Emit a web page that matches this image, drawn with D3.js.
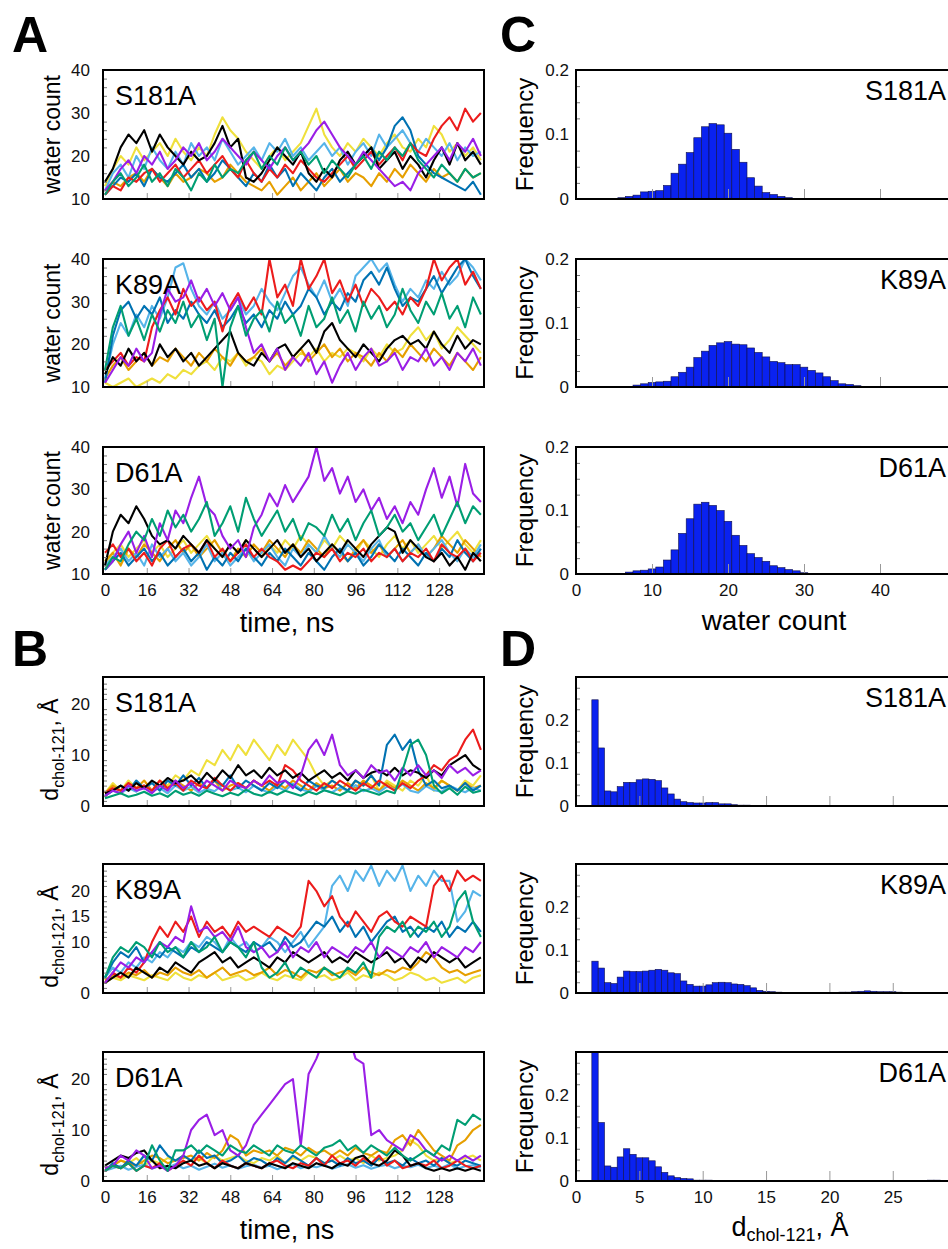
<!DOCTYPE html>
<html>
<head>
<meta charset="utf-8">
<script src="https://cdn.jsdelivr.net/npm/d3@7/dist/d3.min.js"></script>
<style>
  body { margin: 0; background: #fff; }
  svg { display: block; font-family: "Liberation Sans", Arial, sans-serif; }
</style>
</head>
<body>
<svg id="fig" width="948" height="1249"></svg>
<script>
// sampled time points (ns)
const time = [0,3,6,9,12,15,18,21,24,27,30,33,36,39,42,45,48,51,54,57,60,63,66,69,72,75,78,81,84,87,90,93,96,99,102,105,108,111,114,117,120,123,126,129,132,135,138,141,144];

const seriesOrder = ["yellow", "orange", "skyblue", "blue", "red", "black", "purple", "green"];
const seriesColor = {
	yellow: "#efe03c", orange: "#e69f00", skyblue: "#56b4e9", blue: "#0072b2",
	red: "#ec1c1c", black: "#000000", purple: "#9a1ee6", green: "#009e73"
};

// A: water count traces
const waterS181A = {
	black:   [14,17,22,25,23,26,21,25,22,20,18,21,19,20,23,27,22,24,15,14,16,19,22,20,18,21,16,14,17,15,19,21,18,20,22,17,19,21,17,20,18,15,19,22,18,23,19,21,18],
	yellow:  [13,17,20,18,22,19,21,23,20,24,21,19,22,20,25,29,26,24,21,19,17,20,22,19,21,23,27,31,25,22,20,23,21,24,22,20,23,25,22,21,24,22,27,25,21,23,20,22,19],
	red:     [11,13,12,15,14,16,17,14,16,18,15,17,19,16,18,20,17,15,19,16,14,17,15,18,16,19,17,15,14,16,18,20,17,19,21,18,20,22,19,23,21,20,24,27,29,26,31,28,30],
	orange:  [12,14,13,15,16,14,17,15,13,16,14,15,17,16,14,15,18,16,14,13,12,14,11,13,15,12,14,16,13,15,17,14,16,15,13,16,14,17,15,18,16,14,17,15,16,14,17,15,16],
	skyblue: [12,16,18,15,20,17,22,19,17,21,18,23,20,22,19,24,21,18,20,22,19,23,21,24,20,22,19,21,23,20,22,18,21,23,20,25,22,24,26,23,21,24,22,20,23,19,22,20,21],
	blue:    [11,13,15,14,16,13,17,15,14,16,18,15,17,14,16,19,17,15,13,16,14,18,15,17,13,16,14,12,15,17,14,16,18,20,22,19,22,27,29,26,20,18,16,15,14,13,12,14,11],
	purple:  [12,14,17,19,16,20,18,21,17,19,22,20,23,19,21,24,22,20,18,21,19,17,20,22,19,21,23,26,28,25,22,20,18,21,19,17,15,13,14,12,16,18,20,22,19,23,21,24,20],
	green:   [11,14,16,13,15,18,14,16,13,17,15,12,16,14,18,15,17,16,19,21,17,20,18,22,19,21,18,20,16,19,17,15,18,20,17,21,19,22,20,23,19,17,15,18,16,14,17,15,16]
};
const waterK89A = {
	red:     [14,16,18,15,17,16,24,28,31,27,33,29,31,28,30,23,29,32,28,31,27,40,31,34,29,40,33,36,40,32,35,30,34,29,33,31,28,30,27,31,29,33,40,35,38,40,34,37,33],
	skyblue: [12,20,25,22,27,24,29,26,31,38,39,33,29,27,30,26,28,31,27,29,33,30,28,32,36,38,34,31,35,30,33,29,36,38,40,37,39,34,30,33,31,35,33,37,34,36,40,38,35],
	blue:    [11,22,28,30,26,29,27,31,25,28,26,30,27,25,28,24,26,29,25,27,24,28,26,30,27,29,33,31,27,30,28,32,30,35,37,34,38,33,29,31,30,33,36,32,35,38,40,36,33],
	purple:  [11,14,17,15,19,16,18,27,33,30,31,35,30,33,29,32,28,31,24,18,20,16,19,14,17,15,18,13,16,11,15,18,14,17,19,15,16,18,14,17,16,19,15,17,14,18,16,19,15],
	black:   [13,17,15,19,16,18,15,20,17,19,16,18,15,17,19,21,23,18,16,15,18,16,19,20,17,19,21,18,23,25,21,19,17,20,18,16,19,21,22,20,21,19,23,20,18,22,19,21,20],
	green:   [14,24,29,22,26,21,27,23,28,25,30,24,27,21,26,10,24,29,22,26,28,23,30,25,27,22,29,24,26,31,25,28,23,30,26,29,24,27,33,28,25,30,27,32,26,29,24,31,27],
	yellow:  [11,10,11,12,10,11,12,11,13,12,14,13,15,16,14,17,16,18,15,17,16,13,15,14,16,18,17,19,16,18,17,19,18,16,19,17,20,18,19,22,24,21,23,19,21,24,22,20,18],
	orange:  [12,15,17,14,16,18,15,17,16,19,17,15,18,16,19,17,15,18,16,17,19,16,18,15,17,19,16,18,20,17,19,16,18,17,15,18,16,19,17,20,18,16,19,17,15,18,16,14,17]
};
const waterD61A = {
	black:   [12,20,24,22,26,23,19,17,18,16,19,17,15,18,16,14,17,15,18,16,14,16,18,15,17,14,16,13,15,17,15,18,16,14,17,19,21,20,15,18,16,14,13,15,12,14,11,15,13],
	purple:  [11,13,17,20,15,19,14,22,18,25,22,28,33,26,24,19,16,18,14,21,24,29,26,31,27,30,33,40,32,35,29,33,27,30,25,28,23,26,22,27,24,30,35,28,33,26,36,29,27],
	green:   [11,14,13,17,20,18,23,19,25,21,24,20,23,27,19,22,26,20,28,23,19,22,25,20,23,18,22,21,19,24,20,23,18,22,25,19,21,24,20,22,18,21,24,19,23,27,22,26,24],
	red:     [15,17,14,16,13,15,12,16,18,14,16,17,15,18,14,16,13,15,17,14,16,14,13,11,12,11,13,15,14,16,13,15,14,16,13,15,14,16,13,15,14,16,13,17,15,14,16,13,15],
	blue:    [11,13,15,12,14,16,13,15,12,14,16,13,15,11,14,12,15,13,16,14,12,15,13,16,14,12,15,13,11,14,16,13,15,12,14,17,15,13,16,14,12,15,13,16,14,18,15,13,16],
	skyblue: [12,14,16,13,15,12,17,14,16,13,15,12,14,17,13,15,12,14,16,13,15,17,14,12,16,14,17,15,19,16,14,17,15,13,16,18,14,16,13,15,17,14,16,18,15,13,16,14,17],
	yellow:  [12,15,17,14,16,18,15,17,14,16,18,15,17,19,16,14,17,15,18,16,14,17,15,18,16,19,17,15,18,16,19,17,15,18,16,14,17,19,16,18,15,17,19,16,18,20,17,15,18],
	orange:  [13,15,12,16,14,17,15,13,16,18,15,17,14,16,18,15,13,16,14,17,15,18,16,14,17,15,18,16,14,17,15,13,16,18,15,17,14,16,18,15,17,14,16,19,17,15,18,16,14]
};

// B: d(chol-121) traces, Angstrom
const distS181A = {
	yellow:  [2.5,4.5,3,5,3.5,4,3,5,4,6,5,7,6,9,8,11,9,12,10,13,11,9,12,10,13,11,9,6,4,5,4,3,5,4,6,3,5,4,3,5,4,6,3,5,4,3,5,4,6],
	purple:  [2,3,2.5,4,3,3.5,2.5,4,3,5,3.5,4.5,3,5,4,3,5,4,3.5,5,4,6,4.5,5,3.5,6,11,13,10,14,8,6,7,5.5,8,6.5,7,5,7.5,6,8,6,7,5.5,8,6.5,7.5,6,7],
	blue:    [2,3,4,3,5,3.5,4.5,3,5,4,6,4,5.5,3.5,5,4,6,3.5,5,4,3,4.5,3.5,5,4,3,5,4,3.5,5,4,3,5,4,6,4,12,14,11,13,7,4,5,3.5,4,3,4.5,3,4],
	green:   [1.5,2,2.5,1.8,2.2,2.8,2,2.5,1.8,3,2.2,2.7,2,3,2.4,1.9,2.6,2.1,3.2,2.4,2,2.8,2.2,3,2.5,2,2.8,2.3,3.1,2.6,2.1,2.9,2.4,3.2,2.7,2.2,3,2.5,7,12,13,10,4,2.5,3.5,2.2,3.8,2.6,3],
	red:     [2.5,3.5,3,4.5,3.5,4,3,5,3.5,4.5,3,5,4,3.5,5.5,4,3,4.5,3.5,5,4,5,4,8,7,5,4,3,4.5,3.5,5,4,3,4.5,3.5,5,4,3,4.5,3.5,5,6,8,7,9,10,13,15,11],
	black:   [2.5,3,4,3,4.5,3.5,5,4,5.5,4.5,5,6,4.5,6.5,5,7,5.5,8,6,7,5.5,7.5,6,7,5.5,6.5,5,6,7,5.5,6.5,5,7,5.5,6.5,7,6,7.5,6,7,6.5,5.5,7,6,8,9,10,8,7],
	skyblue: [2,3,2.5,3.5,2.8,4,3,3.5,2.5,4,3,3.8,2.6,3.4,2.9,4.2,3.1,3.6,2.7,4,3.2,2.6,3.8,3,4.4,3.3,2.8,3.9,3.1,2.7,3.6,3,4.1,2.9,3.5,2.7,3.8,3.2,4.3,3,2.6,3.9,3.1,2.8,4,3.3,2.7,3.6,3],
	orange:  [2.5,4,3,4.5,3.5,5,3,4,3.5,5,4,3,4.5,3.5,5,3,4,4.5,3.5,5,4,3,4.5,3.5,5,4,3,4.5,3.5,4,3,4.5,3.5,5,4,3,4.5,3.5,5,4,3,4.5,3.5,5,4,3,4.5,3.5,4]
};
const distK89A = {
	red:     [2,4,3,5,4,6,10,13,11,14,12,15,11,14,12,13,11,14,12,13,12,11,13,12,11,13,22,20,17,19,15,13,16,14,12,15,16,14,13,15,14,13,21,23,20,24,22,23,22],
	skyblue: [3,5,4,6,5,7,6,8,7,9,8,10,9,11,10,8,11,9,10,8,9,11,10,8,10,12,9,11,13,21,23,20,24,22,25,21,24,22,25,20,23,21,24,22,22,14,16,20,19],
	blue:    [3,6,8,7,9,6,8,7,9,8,7,9,8,10,9,8,10,9,8,10,9,10,8,11,9,10,12,14,13,15,12,14,11,13,10,12,14,15,12,13,11,13,12,14,11,13,12,14,12],
	green:   [3,7,9,8,10,9,7,10,8,9,7,10,8,9,11,8,10,9,7,10,5,3,4,6,3,5,4,3,5,4,3,5,4,6,3,11,13,12,14,11,13,12,14,11,13,18,20,14,11],
	purple:  [2,4,6,5,7,6,8,10,9,11,10,17,12,13,11,12,10,13,9,8,9,7,8,10,7,9,8,10,7,9,8,7,9,8,10,7,9,8,7,9,8,10,7,9,8,7,9,8,10],
	black:   [2,3,4,3,5,4,3,5,4,6,5,4,6,7,8,6,7,5,6,7,6,5,7,6,8,7,6,7,8,6,7,6,8,7,6,7,8,6,7,5,7,6,8,7,6,7,5,6,7],
	yellow:  [2,3,2.5,3.5,3,2.5,3.5,3,2.5,4,3,2.5,3.5,3,4,2.5,3,3.5,2.5,3,4,3,2.5,3.5,3,2.5,4,3,3.5,2.5,3,4,2.5,3.5,3,4,3.5,2.5,3,4,3.5,2.5,3,2,2.5,3,2,3,3.5],
	orange:  [2.5,3.5,3,4,3.5,4.5,3,4,3.5,5,4,3.5,4.5,3,4,5,3.5,4,4.5,3.5,4,5,3.5,4.5,4,3,4.5,4,5,3.5,4,4.5,3.5,5,4,3.5,4.5,4,5,4.5,6,8,7,5,4,4.5,3.5,4,4.5]
};
const distD61A = {
	purple:  [2.5,3,5,4,6,5,2.5,3,2,3,5,10,12,13,9,10,6,5,7,11,13,15,17,19,20,7,21,24,28,30,30,29,24,23,9,10,8,7,6,9,8,6,5,4,5,4,5,4,5],
	green:   [2,3,2.5,3.5,2,3,7,4,2,6,6,7,5.5,7,6,5,7,6,5.5,7,6,5,7,6,5.5,7,6,5,6.5,7,8,6,7,5.5,7,6,5,6.5,5,4,5,6,5,7,6,12,11,13,12],
	orange:  [2.5,3,4,3.5,3,4,5,4.5,3.5,4,4.5,5,4,5.5,4.5,6,9,8,5,6,5.5,6,5,6.5,6,5,6.5,5.5,6,5,6,5,6.5,5.5,5,6,5.5,8,9,7,10,8,6,5,4,7,8,10,11],
	black:   [3,4,5,4.5,5.5,6,4,2.5,3,2.5,3.5,4,3,3.5,2.5,3.5,3,2.5,3.5,3,2.5,3.5,3,2.5,3.5,3,2.5,3.5,3,2.5,3.5,3,4.5,5,3.5,3,4,6,5,3,3.5,2.5,2,2.5,2,2.5,2,2.5,2],
	red:     [2,3,2.5,3.5,2,3,2.5,3.5,2,3,4,3,5,3.5,2.5,4,3,2.5,3.5,3,2.5,3.5,4,3,2.5,3.5,3,4.5,3,5,3.5,4,3,4.5,3.5,5,3,4,2.5,3,3.5,3,4,2.5,3,4,3,2.5,3],
	blue:    [2,3.5,2.5,4,3,5,4,7,5,4,5,4,6,4.5,5,3.5,4,5,3.5,4.5,4,3,4.5,3.5,5,4,3,4.5,3.5,4,3,4.5,3.5,4,3,4.5,3.5,4,3,4.5,3.5,4,3,4.5,3.5,3,4,3.5,3],
	yellow:  [2.5,3,4,3.5,4.5,3,4,3.5,4.5,4,5,4,4.5,3.5,5,4,4.5,5,4,3.5,4.5,4,5,3.5,4.5,4,5,4.5,3.5,4,5,4,4.5,3.5,5,4,4.5,5,6,8,7,5,4,4.5,3.5,4,4.5,5,4],
	skyblue: [2,2.5,3,2.2,2.8,3.2,2.4,3,2.6,3.3,2.5,3,2.2,2.8,3.4,2.6,3.1,2.4,2.9,3.2,2.6,3,2.3,2.9,3.3,2.5,3,2.7,3.2,2.4,2.9,3.3,2.6,3.1,2.4,2.9,3.2,2.5,3,2.7,3.2,2.5,3,2.6,3.3,2.4,2.9,3.1,2.6]
};

// C: water count histograms (bin centres, width 1)
const waterBins = [5,6,7,8,9,10,11,12,13,14,15,16,17,18,19,20,21,22,23,24,25,26,27,28,29,30,31,32,33,34,35,36,37,38];
const freqWaterS181A = [0.001,0.002,0.004,0.006,0.011,0.012,0.013,0.021,0.040,0.054,0.072,0.095,0.112,0.117,0.115,0.102,0.077,0.057,0.033,0.020,0.010,0.007,0.004,0.002,0.001,0,0,0,0,0,0,0,0,0];
const freqWaterK89A  = [0,0,0.001,0.003,0.005,0.007,0.008,0.009,0.016,0.023,0.031,0.046,0.056,0.065,0.069,0.071,0.067,0.066,0.061,0.054,0.047,0.040,0.038,0.035,0.035,0.031,0.026,0.022,0.016,0.010,0.005,0.004,0.002,0.001];
const freqWaterD61A  = [0,0,0.003,0.005,0.006,0.008,0.011,0.022,0.038,0.064,0.087,0.110,0.113,0.108,0.100,0.083,0.061,0.045,0.032,0.026,0.020,0.013,0.010,0.007,0.005,0.002,0.001,0.001,0,0,0,0,0,0];

// D: distance histograms (bin left edges, width 0.5)
const distBins = [1.25,1.75,2.25,2.75,3.25,3.75,4.25,4.75,5.25,5.75,6.25,6.75,7.25,7.75,8.25,8.75,9.25,9.75,10.25,10.75,11.25,11.75,12.25,12.75,13.25,13.75,14.25,14.75,15.25,15.75,16.25,16.75,17.25,17.75,18.25,18.75,19.25,19.75,20.25,20.75,21.25,21.75,22.25,22.75,23.25,23.75,24.25,24.75,25.25,25.75,26.25,26.75,27.25,27.75,28.25,28.75];
const freqDistS181A = [0.247,0.135,0.035,0.033,0.045,0.055,0.055,0.061,0.063,0.062,0.059,0.042,0.028,0.016,0.010,0.008,0.007,0.007,0.008,0.008,0.005,0.005,0.003,0.002,0.002,0.001,0,0,0,0,0,0,0,0,0,0,0,0,0,0,0,0,0,0,0,0,0,0,0,0,0,0,0,0,0,0];
const freqDistK89A  = [0.074,0.058,0.024,0.022,0.037,0.051,0.050,0.050,0.051,0.053,0.055,0.053,0.047,0.045,0.028,0.020,0.016,0.016,0.019,0.024,0.025,0.024,0.021,0.020,0.017,0.012,0.006,0.004,0.003,0.002,0.001,0,0,0,0,0,0,0,0,0.002,0.002,0.003,0.004,0.005,0.004,0.003,0.003,0.003,0.002,0.001,0,0,0,0,0,0];
const freqDistD61A  = [0.340,0.136,0.035,0.032,0.056,0.075,0.062,0.054,0.054,0.047,0.033,0.020,0.012,0.008,0.006,0.005,0.002,0.002,0.002,0.001,0,0,0,0,0,0,0,0,0,0,0,0,0,0,0,0,0,0,0,0,0,0,0,0,0,0,0,0,0,0,0,0,0.001,0.002,0.002,0.001];

const mutants = ["S181A", "K89A", "D61A"];
const timeTicks = [0,16,32,48,64,80,96,112,128];

// layout
const rows = [
	{ top: 70, bottom: 199 },
	{ top: 259, bottom: 387 },
	{ top: 447, bottom: 574 },
	{ top: 677, bottom: 806 },
	{ top: 864, bottom: 993 },
	{ top: 1052, bottom: 1181 }
];
const left = { x0: 103, x1: 484 };
const right = { x0: 576, x1: 958 };

const svg = d3.select("#fig");
const defs = svg.append("defs");

function clipFor(id, x0, y0, w, h) {
	defs.append("clipPath").attr("id", id)
		.append("rect").attr("x", x0).attr("y", y0).attr("width", w).attr("height", h);
	return "url(#" + id + ")";
}

function frame(g, x0, x1, r) {
	g.append("rect")
		.attr("x", x0).attr("y", r.top)
		.attr("width", x1 - x0).attr("height", r.bottom - r.top)
		.attr("fill", "none").attr("stroke", "#000").attr("stroke-width", 2);
}

function styleAxis(sel, color) {
	sel.select(".domain").remove();
	sel.selectAll(".tick line").attr("stroke", color || "#777").attr("stroke-width", 1);
	sel.selectAll(".tick text").attr("fill", "#111").style("font-size", "17px")
		.style("font-family", "'Liberation Sans', Arial, sans-serif");
}

function yTitleDist(g, cx, cy) {
	const t = g.append("text")
		.attr("transform", "translate(" + cx + "," + cy + ") rotate(-90)")
		.attr("text-anchor", "middle").style("font-size", "23px");
	t.append("tspan").text("d");
	t.append("tspan").attr("dy", 6).style("font-size", "16px").text("chol-121");
	t.append("tspan").attr("dy", -6).text(", Å");
}

function drawTrace(idx, data, yDomain, yTicks, yMinor, name, showX, isWater) {
	const r = rows[idx];
	const g = svg.append("g");
	const x = d3.scaleLinear().domain([-0.77, 145.2]).range([left.x0, left.x1]);
	const y = d3.scaleLinear().domain(yDomain).range([r.bottom, r.top]);

	const body = g.append("g").attr("clip-path", clipFor("clipL" + idx, left.x0, r.top, left.x1 - left.x0, r.bottom - r.top));
	const line = d3.line().x((d, i) => x(time[i])).y(d => y(d));
	seriesOrder.forEach(function (s) {
		body.append("path")
			.datum(data[s])
			.attr("d", line)
			.attr("fill", "none")
			.attr("stroke", seriesColor[s])
			.attr("stroke-width", 2.1)
			.attr("stroke-linejoin", "round");
	});

	// inner minor ticks
	g.append("g").attr("transform", "translate(" + left.x0 + ",0)")
		.call(d3.axisRight(y).tickValues(yMinor).tickSize(4).tickFormat(""))
		.call(styleAxis);
	g.append("g").attr("transform", "translate(0," + r.bottom + ")")
		.call(d3.axisTop(x).tickValues(timeTicks.slice(1)).tickSize(6).tickFormat(""))
		.call(styleAxis, "#999");

	g.append("g").attr("transform", "translate(" + left.x0 + ",0)")
		.call(d3.axisLeft(y).tickValues(yTicks).tickSize(0).tickPadding(13))
		.call(styleAxis);

	if (showX) {
		g.append("g").attr("transform", "translate(0," + r.bottom + ")")
			.call(d3.axisBottom(x).tickValues(timeTicks).tickSize(0).tickPadding(10))
			.call(styleAxis);
		g.append("text").attr("x", 287).attr("y", r.bottom + 58)
			.attr("text-anchor", "middle").style("font-size", "27px").text("time, ns");
	}

	frame(g, left.x0, left.x1, r);
	g.append("text").attr("x", 115).attr("y", r.top + 35).style("font-size", "27px").text(name);

	const cy = (r.top + r.bottom) / 2;
	if (isWater) {
		g.append("text").attr("transform", "translate(60," + cy + ") rotate(-90)")
			.attr("text-anchor", "middle").style("font-size", "23px").text("water count");
	} else {
		yTitleDist(g, 58, cy + 8);
	}
}

function drawHist(idx, edges0, edges1, freqs, xDomain, xTicks, yDomain, yMinor, name, showX, isWater) {
	const r = rows[idx];
	const g = svg.append("g");
	const x = d3.scaleLinear().domain(xDomain).range([right.x0, right.x0 + (xDomain[1] - xDomain[0]) * (isWater ? 7.6 : 12.67)]);
	const y = d3.scaleLinear().domain(yDomain).range([r.bottom, r.top]);

	const body = g.append("g").attr("clip-path", clipFor("clipR" + idx, right.x0, r.top, right.x1 - right.x0, r.bottom - r.top));
	body.selectAll("rect.bar")
		.data(freqs.map((f, i) => ({ a: edges0[i], b: edges1[i], f: f })).filter(d => d.f > 0))
		.enter().append("rect")
		.attr("class", "bar")
		.attr("x", d => x(d.a))
		.attr("width", d => x(d.b) - x(d.a))
		.attr("y", d => y(d.f))
		.attr("height", d => r.bottom - y(d.f))
		.attr("fill", "#0a22f0")
		.attr("stroke", "#10104a")
		.attr("stroke-width", 0.6);

	g.append("g").attr("transform", "translate(" + right.x0 + ",0)")
		.call(d3.axisRight(y).tickValues(yMinor).tickSize(4).tickFormat(""))
		.call(styleAxis);
	g.append("g").attr("transform", "translate(0," + r.bottom + ")")
		.call(d3.axisTop(x).tickValues(xTicks.slice(1)).tickSize(10).tickFormat(""))
		.call(styleAxis, "#999");

	g.append("g").attr("transform", "translate(" + right.x0 + ",0)")
		.call(d3.axisLeft(y).tickValues([0, 0.1, 0.2]).tickSize(0).tickPadding(7)
			.tickFormat(d => d === 0 ? "0" : d3.format(".1f")(d)))
		.call(styleAxis);

	if (showX) {
		g.append("g").attr("transform", "translate(0," + r.bottom + ")")
			.call(d3.axisBottom(x).tickValues(xTicks).tickSize(0).tickPadding(10))
			.call(styleAxis);
		if (isWater) {
			g.append("text").attr("x", 774).attr("y", r.bottom + 56)
				.attr("text-anchor", "middle").style("font-size", "28px").text("water count");
		} else {
			const t = g.append("text").attr("x", 790).attr("y", r.bottom + 55)
				.attr("text-anchor", "middle").style("font-size", "27px");
			t.append("tspan").text("d");
			t.append("tspan").attr("dy", 5).style("font-size", "18px").text("chol-121");
			t.append("tspan").attr("dy", -5).text(", Å");
		}
	}

	frame(g, right.x0, right.x1, r);
	g.append("text").attr("x", 946).attr("y", r.top + 30)
		.attr("text-anchor", "end").style("font-size", "27px").text(name);

	g.append("text").attr("transform", "translate(533," + ((r.top + r.bottom) / 2) + ") rotate(-90)")
		.attr("text-anchor", "middle").style("font-size", "24px").text("Frequency");
}

// panel A and B
const waterData = [waterS181A, waterK89A, waterD61A];
const distData = [distS181A, distK89A, distD61A];
const waterMinor = [12,14,16,18,22,24,26,28,32,34,36,38];
const distMinor = [1,2,3,4,5,6,7,8,9,11,12,13,14,15,16,17,18,19,21,22,23,24];
waterData.forEach((d, i) => drawTrace(i, d, [10, 40], [10, 20, 30, 40], waterMinor, mutants[i], i === 2, true));
distData.forEach((d, i) => drawTrace(i + 3, d, [0, 25.3], i === 1 ? [0, 10, 15, 20] : [0, 10, 20], distMinor, mutants[i], i === 2, false));

// panel C and D
const wEdge0 = waterBins.map(b => b - 0.5);
const wEdge1 = waterBins.map(b => b + 0.5);
const dEdge1 = distBins.map(b => b + 0.5);
const histMinorC = [0.025, 0.05, 0.075, 0.125, 0.15, 0.175];
const histMinorD = [0.025, 0.05, 0.075, 0.125, 0.15, 0.175, 0.225, 0.25, 0.275];
[freqWaterS181A, freqWaterK89A, freqWaterD61A].forEach((f, i) =>
	drawHist(i, wEdge0, wEdge1, f, [0, 50], [0, 10, 20, 30, 40], [0, 0.2], histMinorC, mutants[i], i === 2, true));
[freqDistS181A, freqDistK89A, freqDistD61A].forEach((f, i) =>
	drawHist(i + 3, distBins, dEdge1, f, [0, 30], [0, 5, 10, 15, 20, 25], [0, 0.3], histMinorD, mutants[i], i === 2, false));

// panel letters
[["A", 12, 52], ["B", 12, 666], ["C", 500, 52], ["D", 500, 666]].forEach(function (p) {
	svg.append("text").attr("x", p[1]).attr("y", p[2])
		.style("font-size", "50px").style("font-weight", "bold").text(p[0]);
});
</script>
</body>
</html>
